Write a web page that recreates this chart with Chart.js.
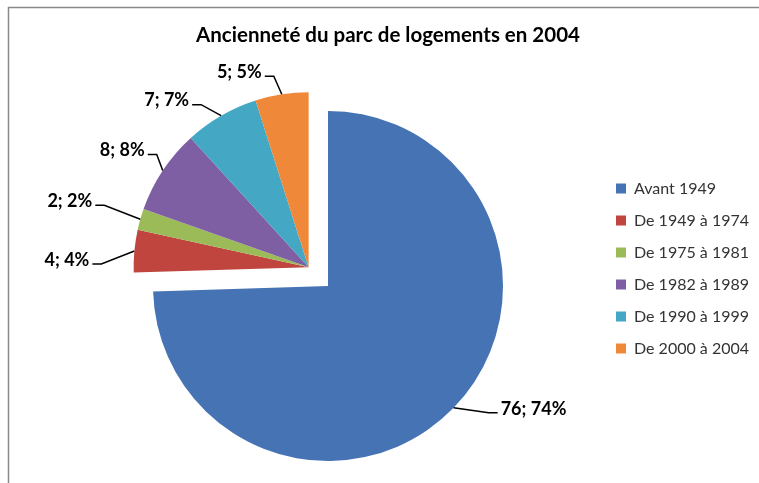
<!DOCTYPE html>
<html><head><meta charset="utf-8">
<script src="https://cdn.jsdelivr.net/npm/chart.js@4"></script>
<style>html,body{margin:0;padding:0;background:#fff;} canvas{display:block;}</style>
</head><body>
<canvas id="c" width="759" height="483"></canvas>
<script>
// ---- data ----
const categories = ['Avant 1949', 'De 1949 à 1974', 'De 1975 à 1981', 'De 1982 à 1989', 'De 1990 à 1999', 'De 2000 à 2004'];
const values = [76, 4, 2, 8, 7, 5];
const percentLabels = ['74%', '4%', '2%', '8%', '7%', '5%'];
const titleText = 'Ancienneté du parc de logements en 2004';

// ---- style ----
const colors = ['#4673B4', '#C0453F', '#9BBB59', '#7E5FA3', '#44A7C4', '#F0883A'];
const leaderOffsets = [[35, 5], [-33, 13], [-36, -14], [-6, -16], [-20, -11], [-8, -18]];
const explodeDistance = 27;
const legendFontSize = 16, legendPad = 16, legendBox = 10;
const padLeft = 56, padRight = 0;
const titleBox = { left: 17, right: 759 };

const framePlugin = {
  id: 'frame',
  beforeDraw(chart) {
    const ctx = chart.ctx;
    ctx.save();
    ctx.fillStyle = '#fff';
    ctx.fillRect(0, 0, chart.width, chart.height);
    ctx.strokeStyle = '#8a8a8a';
    ctx.lineWidth = 1.5;
    ctx.beginPath();
    ctx.moveTo(8.5, chart.height);
    ctx.lineTo(8.5, 7.5);
    ctx.lineTo(chart.width, 7.5);
    ctx.stroke();
    ctx.restore();
  }
};

const titlePlacePlugin = {
  id: 'titlePlace',
  afterLayout(chart) {
    const t = chart.titleBlock;
    if (t) { t.left = titleBox.left; t.right = titleBox.right; t.width = titleBox.right - titleBox.left; }
  }
};

const explodePlugin = {
  id: 'explodeGroup',
  beforeDatasetsDraw(chart) {
    const arcs = chart.getDatasetMeta(0).data;
    const base = arcs[0];
    const mid = (arcs[1].startAngle + arcs[arcs.length - 1].endAngle) / 2;
    const dx = Math.cos(mid) * explodeDistance;
    const dy = Math.sin(mid) * explodeDistance;
    for (let i = 1; i < arcs.length; i++) {
      arcs[i].x = base.x + dx;
      arcs[i].y = base.y + dy;
    }
  }
};

const labelPlugin = {
  id: 'leaderLabels',
  afterDatasetsDraw(chart) {
    const ctx = chart.ctx;
    const arcs = chart.getDatasetMeta(0).data;
    ctx.save();
    ctx.font = 'bold 18px Lato';
    ctx.strokeStyle = '#000';
    ctx.fillStyle = '#000';
    ctx.lineWidth = 1.5;
    arcs.forEach((arc, i) => {
      const mid = (arc.startAngle + arc.endAngle) / 2;
      const r = arc.outerRadius;
      const px = arc.x + Math.cos(mid) * r;
      const py = arc.y + Math.sin(mid) * r;
      const ex = px + leaderOffsets[i][0];
      const ey = py + leaderOffsets[i][1];
      const side = Math.cos(mid) >= 0 ? 1 : -1;
      const hx = ex + side * 9;
      ctx.beginPath();
      ctx.moveTo(px, py);
      ctx.lineTo(ex, ey);
      ctx.lineTo(hx, ey);
      ctx.stroke();
      ctx.textAlign = side > 0 ? 'left' : 'right';
      ctx.textBaseline = 'middle';
      ctx.fillText(values[i] + '; ' + percentLabels[i], hx + side * 3, ey - 4);
    });
    ctx.restore();
  }
};

function build() {
  new Chart(document.getElementById('c'), {
    type: 'pie',
    data: {
      labels: categories,
      datasets: [{
        data: values,
        backgroundColor: colors,
        borderWidth: 0,
        hoverOffset: 0
      }]
    },
    options: {
      responsive: false,
      animation: false,
      radius: 175,
      layout: { padding: { top: 0, bottom: -54, left: padLeft, right: padRight } },
      plugins: {
        tooltip: { enabled: false },
        title: {
          display: true,
          text: titleText,
          color: '#000',
          font: { family: 'Lato', size: 20.5, weight: 'bold', lineHeight: 1.2 },
          padding: { top: 22.7, bottom: 41.7 }
        },
        legend: {
          position: 'right',
          labels: {
            boxWidth: legendBox,
            boxHeight: legendBox,
            padding: legendPad,
            color: '#333',
            font: { family: 'Lato', size: legendFontSize }
          }
        }
      }
    },
    plugins: [framePlugin, titlePlacePlugin, explodePlugin, labelPlugin]
  });
}

Promise.all([
  document.fonts.load('16px Lato'),
  document.fonts.load('bold 18px Lato'),
  document.fonts.load('bold 20.5px Lato')
]).then(build, build);
</script>
</body></html>
